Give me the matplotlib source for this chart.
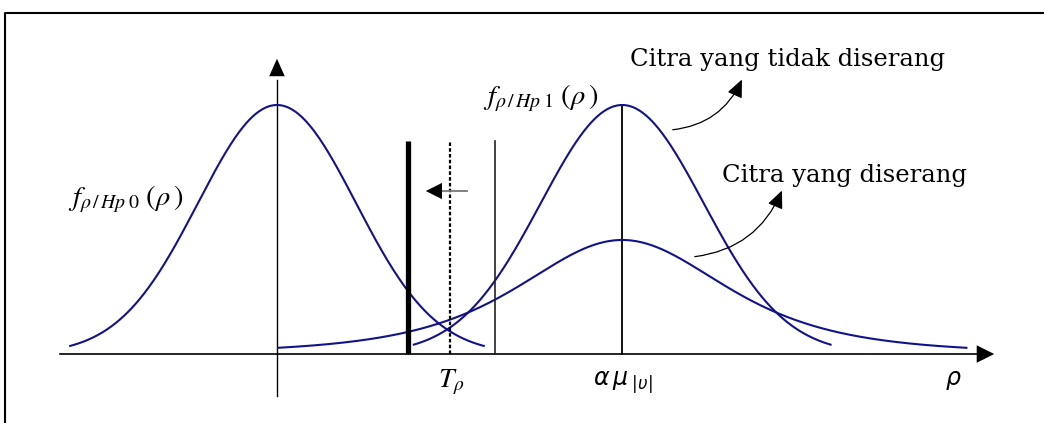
import numpy as np
import matplotlib
matplotlib.use("Agg")
import matplotlib.pyplot as plt
from matplotlib.patches import FancyArrowPatch
from matplotlib.lines import Line2D

# Densities of the correlation ρ (ρ in units of the H0 spread,
# heights relative to the H0 peak)
curve_names = ["H0", "H1 tidak diserang", "H1 diserang"]
curve_centers = [0.0, 4.37, 4.37]
curve_heights = [1.0, 1.0, 0.458]
curve_widths = [1.0, 1.03, 2.405]
curve_kinds = ["normal", "normal", "heavy"]
curve_halfspans = [2.63, 2.65, 4.37]

# Decision thresholds: moved threshold, T_ρ, original threshold
threshold_positions = [1.66, 2.19, 2.76]
threshold_top = 0.855
mean_position = 4.37

# Labels
label_h0 = r"$f_{\rho\,/\,Hp\;\mathit{0}}\;(\rho\,)$"
label_h1 = r"$f_{\rho\,/\,Hp\;\mathit{1}}\;(\rho\,)$"
label_t = r"$T_{\rho}$"
label_mean = r"$\alpha\,\mu_{\;|\upsilon|}$"
label_rho = r"$\rho$"
note_clean = "Citra yang tidak diserang"
note_attacked = "Citra yang diserang"

NAVY = "#12128a"


def bell(x, c, h, w, kind):
    z = (x - c) / w
    if kind == "normal":
        return h * np.exp(-0.5 * z ** 2)
    return h / (1.0 + z ** 2) ** 2


fig = plt.figure(figsize=(10.44, 4.23), dpi=100)
ax = fig.add_axes([0, 0, 1, 1])
ax.set_xlim(-3.506, 9.709)
ax.set_ylim(-0.277, 1.4217)
ax.axis("off")

# outer frame (top and left edges)
fig.add_artist(Line2D([0.0048, 0.0048, 1.0], [0.0, 0.9693, 0.9693],
                      transform=fig.transFigure, color="black", lw=1.5))

# density curves
for c, h, w, k, s in zip(curve_centers, curve_heights, curve_widths,
                         curve_kinds, curve_halfspans):
    x = np.linspace(c - s, c + s, 400)
    ax.plot(x, bell(x, c, h, w, k), color=NAVY, lw=1.5,
            solid_capstyle="butt", zorder=3)

# axes with arrow heads
ax.plot([-2.747, 9.0], [0, 0], color="black", lw=1.2, zorder=2)
ax.add_patch(FancyArrowPatch((8.9, 0), (9.114, 0),
                             arrowstyle="-|>,head_length=0.9,head_width=0.45",
                             mutation_scale=14, color="black", lw=0, zorder=2))
ax.plot([0, 0], [-0.169, 1.10], color="black", lw=1.0, zorder=2)
ax.add_patch(FancyArrowPatch((0, 1.10), (0, 1.197),
                             arrowstyle="-|>,head_length=0.9,head_width=0.4",
                             mutation_scale=14, color="black", lw=0, zorder=2))

# threshold lines
ax.plot([threshold_positions[0]] * 2, [0, threshold_top], color="black",
        lw=3.8, solid_capstyle="butt", zorder=4)
ax.plot([threshold_positions[1]] * 2, [0, threshold_top], color="black",
        lw=1.6, linestyle=(0, (1.6, 1.0)), zorder=4)
ax.plot([threshold_positions[2]] * 2, [0, threshold_top], color="#222222",
        lw=1.2, zorder=4)
ax.plot([mean_position] * 2, [0, curve_heights[1]], color="black",
        lw=1.3, zorder=2)

# shift of the threshold toward the left
ax.plot([2.405, 1.98], [0.6546, 0.6546], color="#777777", lw=1.3, zorder=4)
ax.add_patch(FancyArrowPatch((2.0, 0.6546), (1.848, 0.6546),
                             arrowstyle="-|>,head_length=0.9,head_width=0.45",
                             mutation_scale=13, color="black", lw=0, zorder=5))

# curve labels
ax.text(-2.646, 0.598, label_h0, fontsize=20.5, math_fontfamily="stix",
        ha="left", va="baseline")
ax.text(2.608, 1.004, label_h1, fontsize=20.5, math_fontfamily="stix",
        ha="left", va="baseline")
ax.text(2.038, -0.1325, label_t, fontsize=20, math_fontfamily="stix",
        ha="left", va="baseline")
ax.text(4.0, -0.1245, label_mean, fontsize=17, math_fontfamily="dejavusans",
        ha="left", va="baseline")
ax.text(8.456, -0.1245, label_rho, fontsize=17, math_fontfamily="dejavusans",
        ha="left", va="baseline")

# annotations with curved arrows
ax.text(4.468, 1.1566, note_clean, fontsize=17.5, family="DejaVu Serif",
        ha="left", va="baseline")
ax.text(5.633, 0.6908, note_attacked, fontsize=17.5, family="DejaVu Serif",
        ha="left", va="baseline")
for start, end in [((4.975, 0.8996), (5.899, 1.1124)),
                   ((5.253, 0.3896), (6.405, 0.6667))]:
    ax.add_patch(FancyArrowPatch(start, end, connectionstyle="arc3,rad=0.3",
                                 arrowstyle="-|>,head_length=0.9,head_width=0.4",
                                 mutation_scale=12, color="black", lw=0.9,
                                 zorder=5))

fig.savefig("out.png", dpi=100)
